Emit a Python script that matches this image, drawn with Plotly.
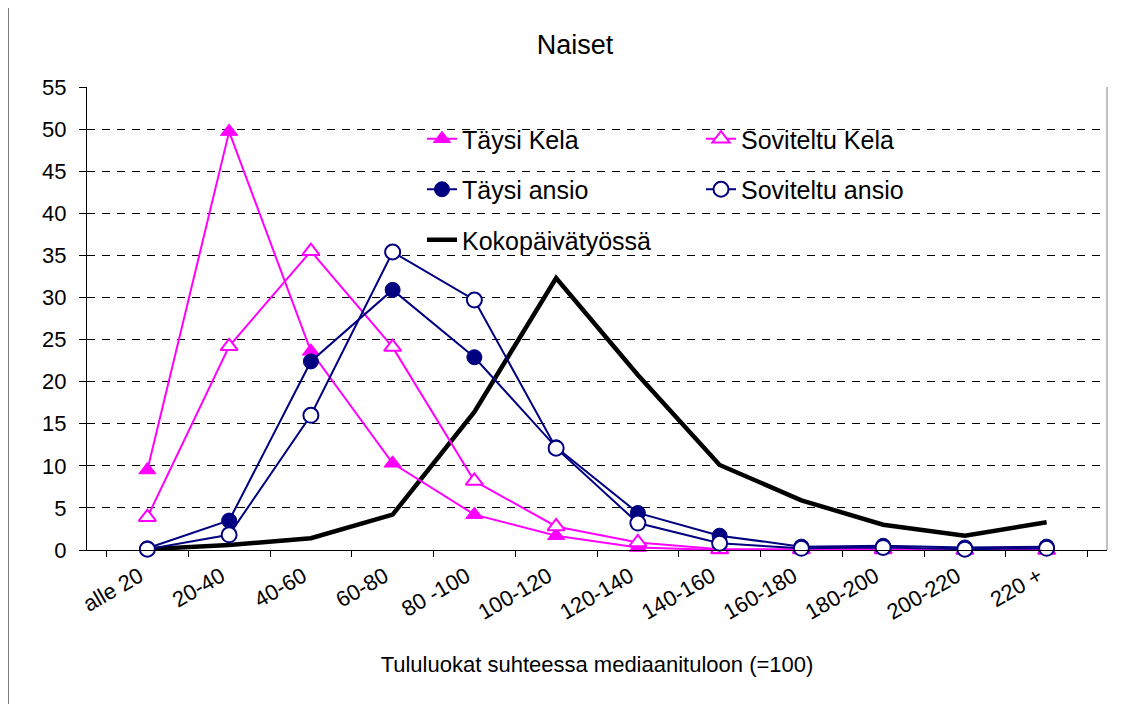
import plotly.graph_objects as go

categories = ["alle 20", "20-40", "40-60", "60-80", "80 -100", "100-120", "120-140",
              "140-160", "160-180", "180-200", "200-220", "220 +"]
taysi_kela = [9.5, 49.7, 23.6, 10.3, 4.2, 1.7, 0.3, 0.0, 0.0, 0.0, 0.0, 0.0]
soviteltu_kela = [3.9, 24.2, 35.5, 24.1, 8.2, 2.8, 0.9, 0.1, 0.1, 0.1, 0.0, 0.0]
taysi_ansio = [0.2, 3.5, 22.4, 30.9, 22.9, 12.2, 4.4, 1.7, 0.4, 0.5, 0.3, 0.4]
soviteltu_ansio = [0.1, 1.8, 16.0, 35.4, 29.7, 12.1, 3.2, 0.8, 0.2, 0.3, 0.1, 0.2]
kokopaiva = [0.1, 0.6, 1.4, 4.2, 16.4, 32.3, 20.8, 10.1, 5.9, 3.0, 1.7, 3.3]

MAG = "#FF00FF"
NAVY = "#000080"
FONT = "Liberation Sans, Arial, sans-serif"

fig = go.Figure()

fig.add_trace(go.Scatter(
    x=categories, y=kokopaiva, name="Kokopäivätyössä", mode="lines",
    line=dict(color="black", width=4.5), legend="legend", legendgroup="g5",
    legendrank=3, cliponaxis=False))
fig.add_trace(go.Scatter(
    x=categories, y=taysi_kela, name="Täysi Kela", mode="lines+markers",
    line=dict(color=MAG, width=2),
    marker=dict(symbol="triangle-up", size=15, color=MAG, line=dict(color=MAG, width=1)),
    legend="legend", legendgroup="g1", legendrank=1, cliponaxis=False))
fig.add_trace(go.Scatter(
    x=categories, y=soviteltu_kela, name="Soviteltu Kela", mode="lines+markers",
    line=dict(color=MAG, width=2),
    marker=dict(symbol="triangle-up", size=15, color="white", line=dict(color=MAG, width=2)),
    legend="legend2", legendgroup="g2", legendrank=1, cliponaxis=False))
fig.add_trace(go.Scatter(
    x=categories, y=taysi_ansio, name="Täysi ansio", mode="lines+markers",
    line=dict(color=NAVY, width=2),
    marker=dict(symbol="circle", size=15, color=NAVY, line=dict(color=NAVY, width=1)),
    legend="legend", legendgroup="g3", legendrank=2, cliponaxis=False))
fig.add_trace(go.Scatter(
    x=categories, y=soviteltu_ansio, name="Soviteltu ansio", mode="lines+markers",
    line=dict(color=NAVY, width=2),
    marker=dict(symbol="circle", size=15, color="white", line=dict(color=NAVY, width=2)),
    legend="legend2", legendgroup="g4", legendrank=2, cliponaxis=False))

# The page body adds an 8px offset; figure coordinates = page coordinates - 8.
OFF = 8
FW, FH = 1134 - OFF, 704 - OFF
# plot area in page pixels: x 87..1107, y 87..550
L, R = 87 - OFF, FW - (1107 - OFF)
T, B = 87 - OFF, FH - (550 - OFF)
W, H = FW - L - R, FH - T - B

def px(xp):  # page x -> paper
    return (xp - OFF - L) / W

def py(yp):  # page y -> paper
    return (FH - B - (yp - OFF)) / H

legend_common = dict(
    font=dict(family=FONT, size=25, color="black"),
    bgcolor="rgba(0,0,0,0)", orientation="v", traceorder="grouped",
    tracegroupgap=15, xanchor="left", yanchor="top",
)

fig.update_layout(
    width=FW, height=FH,
    margin=dict(l=L, r=R, t=T, b=B),
    paper_bgcolor="white", plot_bgcolor="white",
    font=dict(family=FONT, color="black"),
    title=dict(text="Naiset", font=dict(family=FONT, size=27, color="black"),
               x=(575 - OFF) / FW, xanchor="center", y=1 - (45 - OFF) / FH,
               yanchor="middle", xref="container", yref="container"),
    legend=dict(x=px(422), y=py(116), **legend_common),
    legend2=dict(x=px(701), y=py(116), **legend_common),
    showlegend=True,
    xaxis=dict(
        type="category", showline=True, linecolor="black", linewidth=1,
        ticks="outside", tickson="boundaries", ticklen=6, tickcolor="black",
        tickangle=-30, tickfont=dict(family=FONT, size=22, color="black"),
        ticklabelshift=-8, ticklabelstandoff=4,
        showgrid=False, zeroline=False,
        title=dict(text="Tululuokat suhteessa mediaanituloon (=100)",
                   font=dict(family=FONT, size=22, color="black"), standoff=32),
    ),
    yaxis=dict(
        range=[0, 55], dtick=5, tick0=0, showline=True, linecolor="black", linewidth=1,
        ticks="outside", ticklen=7, tickcolor="black",
        tickfont=dict(family=FONT, size=22, color="black"),
        showgrid=True, gridcolor="black", gridwidth=1, griddash="8px,7px",
        zeroline=False, ticklabelstandoff=8,
    ),
    shapes=[
        # white legend box over gridlines
        dict(type="rect", xref="paper", yref="paper", x0=px(372), x1=px(993),
             y0=py(268), y1=py(110), fillcolor="white", line=dict(width=0), layer="between"),
        # right plot border
        dict(type="line", xref="paper", yref="paper", x0=1, x1=1, y0=0, y1=1,
             line=dict(color="#808080", width=1)),
        # chart outer border (left & top)
        dict(type="line", xref="paper", yref="paper", x0=px(8), x1=px(8),
             y0=py(720), y1=py(5), line=dict(color="black", width=1)),
        dict(type="line", xref="paper", yref="paper", x0=px(8), x1=px(1150),
             y0=py(5), y1=py(5), line=dict(color="#404040", width=2)),
    ],
)

fig.write_html("out.html")
